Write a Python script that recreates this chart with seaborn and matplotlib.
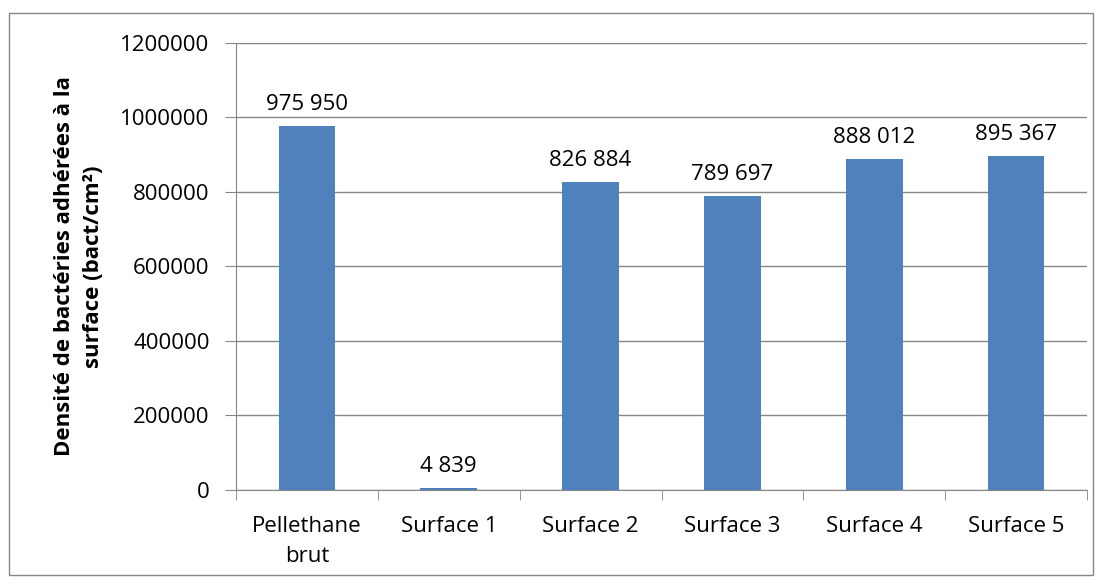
import matplotlib
matplotlib.use("Agg")
from matplotlib import pyplot as plt
from matplotlib.patches import Rectangle
from matplotlib.ticker import FuncFormatter
import pandas as pd
import seaborn as sns

# data
categories = ["Pellethane\nbrut", "Surface 1", "Surface 2", "Surface 3", "Surface 4", "Surface 5"]
densities = [975950, 4839, 826884, 789697, 888012, 895367]

df = pd.DataFrame({"Surface": categories, "Densite": densities})

sns.set_style("white")
plt.rcParams["font.family"] = ["Open Sans", "DejaVu Sans"]
plt.rcParams["text.color"] = "black"
plt.rcParams["xtick.color"] = "black"
plt.rcParams["ytick.color"] = "black"

fig = plt.figure(figsize=(11.02, 5.8), dpi=100)
ax = fig.add_axes([0.2142, 0.1552, 0.7722, 0.7707])

sns.barplot(data=df, x="Surface", y="Densite", color="#4F81BD", width=0.4,
            saturation=1, ax=ax, zorder=3, edgecolor="none")

# value labels with space as thousand separator
for i, v in enumerate(densities):
    ax.annotate(f"{v:,}".replace(",", " "), (i, v), xytext=(0, 8),
                textcoords="offset points", ha="center", va="bottom", fontsize=16)

ax.set_ylim(0, 1200000)
ax.set_xlim(-0.5, 5.5)
ax.set_yticks(range(0, 1200001, 200000))
ax.yaxis.set_major_formatter(FuncFormatter(lambda v, p: f"{int(v)}"))
ax.yaxis.grid(True, color="#868686", linewidth=1, zorder=0)
ax.tick_params(axis="y", length=8, color="#868686", labelcolor="black", labelsize=16, pad=11, left=True)
ax.tick_params(axis="x", which="major", length=0, labelcolor="black", labelsize=16, pad=19)
ax.set_xticks([x - 0.5 for x in range(7)], minor=True)
ax.tick_params(axis="x", which="minor", length=7, color="#868686", bottom=True)
for lbl in ax.get_xticklabels():
    lbl.set_linespacing(1.55)

for side in ["top", "right"]:
    ax.spines[side].set_visible(False)
ax.spines["left"].set_color("#868686")
ax.spines["bottom"].set_color("#868686")

ax.set_xlabel("")
ax.set_ylabel("Densité de bactéries adhérées à la\nsurface (bact/cm²)",
              fontsize=16, fontweight="bold", labelpad=12, color="black",
              linespacing=1.5)

# outer chart frame
fig.patches.append(Rectangle((0.008, 0.008), 0.984, 0.97, transform=fig.transFigure,
                             fill=False, edgecolor="#868686", linewidth=1))

fig.savefig("out.png", dpi=100)
